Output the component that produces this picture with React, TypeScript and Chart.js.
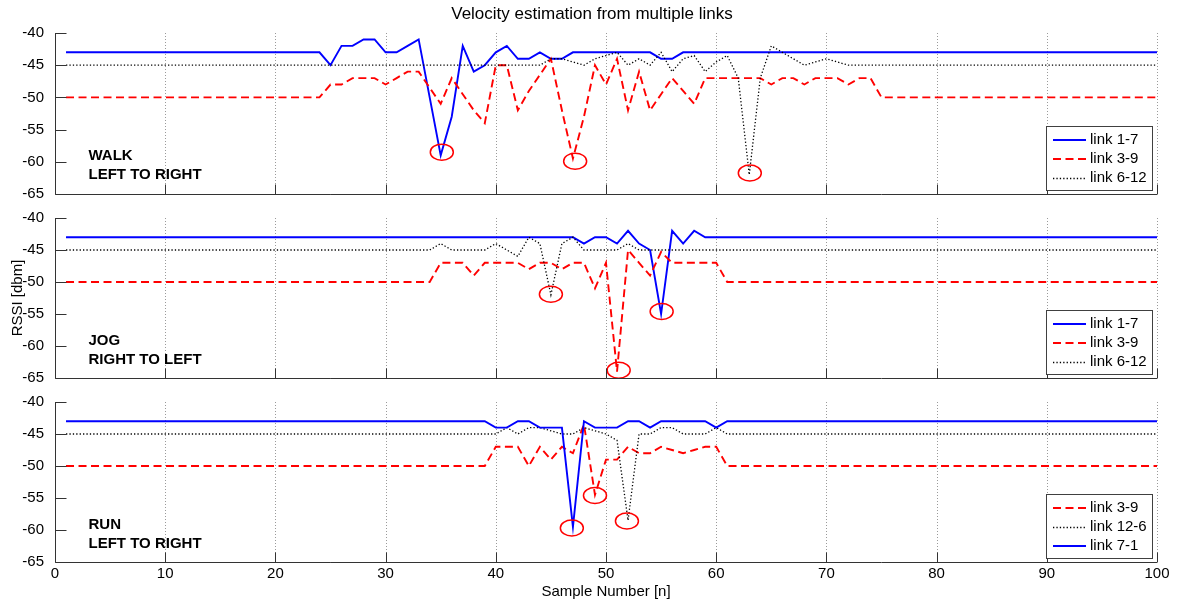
import React, { useEffect, useRef } from 'react';
import { Chart, registerables } from 'chart.js';

Chart.register(...registerables);

const FONT = "'Liberation Sans', Arial, Helvetica, sans-serif";

// ---------------- data ----------------
const sampleNumbers = [
  1, 2, 3, 4, 5, 6, 7, 8, 9, 10, 11, 12, 13, 14, 15, 16, 17, 18, 19, 20,
  21, 22, 23, 24, 25, 26, 27, 28, 29, 30, 31, 32, 33, 34, 35, 36, 37, 38, 39, 40,
  41, 42, 43, 44, 45, 46, 47, 48, 49, 50, 51, 52, 53, 54, 55, 56, 57, 58, 59, 60,
  61, 62, 63, 64, 65, 66, 67, 68, 69, 70, 71, 72, 73, 74, 75, 76, 77, 78, 79, 80,
  81, 82, 83, 84, 85, 86, 87, 88, 89, 90, 91, 92, 93, 94, 95, 96, 97, 98, 99, 100,
];
const xTickValues = [0, 10, 20, 30, 40, 50, 60, 70, 80, 90, 100];
const yTickValues = [-65, -60, -55, -50, -45, -40];

const chartTitle = 'Velocity estimation from multiple links';
const xAxisTitle = 'Sample Number [n]';
const yAxisTitle = 'RSSI [dbm]';

// WALK, left to right
const walkLink17 = [
  -43, -43, -43, -43, -43, -43, -43, -43, -43, -43,
  -43, -43, -43, -43, -43, -43, -43, -43, -43, -43,
  -43, -43, -43, -43, -45, -42, -42, -41, -41, -43,
  -43, -42, -41, -50, -59, -53, -42, -46, -45, -43,
  -42, -44, -44, -43, -44, -44, -43, -43, -43, -43,
  -43, -43, -43, -43, -44, -44, -43, -43, -43, -43,
  -43, -43, -43, -43, -43, -43, -43, -43, -43, -43,
  -43, -43, -43, -43, -43, -43, -43, -43, -43, -43,
  -43, -43, -43, -43, -43, -43, -43, -43, -43, -43,
  -43, -43, -43, -43, -43, -43, -43, -43, -43, -43,
];
const walkLink39 = [
  -50, -50, -50, -50, -50, -50, -50, -50, -50, -50,
  -50, -50, -50, -50, -50, -50, -50, -50, -50, -50,
  -50, -50, -50, -50, -48, -48, -47, -47, -47, -48,
  -47, -46, -46, -48.5, -51, -47, -49.5, -52, -54, -45,
  -45, -52, -49, -46.5, -44, -52, -59.5, -53, -45, -48,
  -44, -52, -46, -52, -49.5, -47, -49, -51, -47, -47,
  -47, -47, -47, -47, -48, -47, -47, -48, -47, -47,
  -47, -48, -47, -47, -50, -50, -50, -50, -50, -50,
  -50, -50, -50, -50, -50, -50, -50, -50, -50, -50,
  -50, -50, -50, -50, -50, -50, -50, -50, -50, -50,
];
const walkLink612 = [
  -45, -45, -45, -45, -45, -45, -45, -45, -45, -45,
  -45, -45, -45, -45, -45, -45, -45, -45, -45, -45,
  -45, -45, -45, -45, -45, -45, -45, -45, -45, -45,
  -45, -45, -45, -45, -45, -45, -45, -45, -45, -45,
  -45, -45, -45, -45, -44, -44, -44.5, -45, -44, -43.5,
  -43, -45, -44, -45, -43, -46, -44, -43.5, -46, -44.5,
  -43.5, -47, -62, -47, -42, -43, -44, -45, -44.5, -44,
  -44.5, -45, -45, -45, -45, -45, -45, -45, -45, -45,
  -45, -45, -45, -45, -45, -45, -45, -45, -45, -45,
  -45, -45, -45, -45, -45, -45, -45, -45, -45, -45,
];

// JOG, right to left
const jogLink17 = [
  -43, -43, -43, -43, -43, -43, -43, -43, -43, -43,
  -43, -43, -43, -43, -43, -43, -43, -43, -43, -43,
  -43, -43, -43, -43, -43, -43, -43, -43, -43, -43,
  -43, -43, -43, -43, -43, -43, -43, -43, -43, -43,
  -43, -43, -43, -43, -43, -43, -43, -44, -43, -43,
  -44, -42, -44, -45, -55, -42, -44, -42, -43, -43,
  -43, -43, -43, -43, -43, -43, -43, -43, -43, -43,
  -43, -43, -43, -43, -43, -43, -43, -43, -43, -43,
  -43, -43, -43, -43, -43, -43, -43, -43, -43, -43,
  -43, -43, -43, -43, -43, -43, -43, -43, -43, -43,
];
const jogLink39 = [
  -50, -50, -50, -50, -50, -50, -50, -50, -50, -50,
  -50, -50, -50, -50, -50, -50, -50, -50, -50, -50,
  -50, -50, -50, -50, -50, -50, -50, -50, -50, -50,
  -50, -50, -50, -50, -47, -47, -47, -49, -47, -47,
  -47, -47, -48, -47, -47, -48, -47, -47, -51, -47,
  -64, -45, -47, -49, -45.3, -47, -47, -47, -47, -47,
  -50, -50, -50, -50, -50, -50, -50, -50, -50, -50,
  -50, -50, -50, -50, -50, -50, -50, -50, -50, -50,
  -50, -50, -50, -50, -50, -50, -50, -50, -50, -50,
  -50, -50, -50, -50, -50, -50, -50, -50, -50, -50,
];
const jogLink612 = [
  -45, -45, -45, -45, -45, -45, -45, -45, -45, -45,
  -45, -45, -45, -45, -45, -45, -45, -45, -45, -45,
  -45, -45, -45, -45, -45, -45, -45, -45, -45, -45,
  -45, -45, -45, -45, -44, -45, -45, -45, -45, -44,
  -45, -46, -43, -44, -52, -44, -43, -45, -45, -45,
  -45, -44, -45, -45, -45, -45, -45, -45, -45, -45,
  -45, -45, -45, -45, -45, -45, -45, -45, -45, -45,
  -45, -45, -45, -45, -45, -45, -45, -45, -45, -45,
  -45, -45, -45, -45, -45, -45, -45, -45, -45, -45,
  -45, -45, -45, -45, -45, -45, -45, -45, -45, -45,
];

// RUN, left to right
const runLink39 = [
  -50, -50, -50, -50, -50, -50, -50, -50, -50, -50,
  -50, -50, -50, -50, -50, -50, -50, -50, -50, -50,
  -50, -50, -50, -50, -50, -50, -50, -50, -50, -50,
  -50, -50, -50, -50, -50, -50, -50, -50, -50, -47,
  -47, -47, -50, -47, -49, -47, -48, -43.5, -54.5, -49,
  -49, -47, -48, -48, -47, -47.5, -48, -47.5, -47, -47,
  -50, -50, -50, -50, -50, -50, -50, -50, -50, -50,
  -50, -50, -50, -50, -50, -50, -50, -50, -50, -50,
  -50, -50, -50, -50, -50, -50, -50, -50, -50, -50,
  -50, -50, -50, -50, -50, -50, -50, -50, -50, -50,
];
const runLink126 = [
  -45, -45, -45, -45, -45, -45, -45, -45, -45, -45,
  -45, -45, -45, -45, -45, -45, -45, -45, -45, -45,
  -45, -45, -45, -45, -45, -45, -45, -45, -45, -45,
  -45, -45, -45, -45, -45, -45, -45, -45, -45, -45,
  -44, -45, -44, -44, -44.5, -45, -45, -44, -44.5, -45,
  -46, -58.5, -45, -45, -44, -44, -45, -45, -45, -44,
  -45, -45, -45, -45, -45, -45, -45, -45, -45, -45,
  -45, -45, -45, -45, -45, -45, -45, -45, -45, -45,
  -45, -45, -45, -45, -45, -45, -45, -45, -45, -45,
  -45, -45, -45, -45, -45, -45, -45, -45, -45, -45,
];
const runLink71 = [
  -43, -43, -43, -43, -43, -43, -43, -43, -43, -43,
  -43, -43, -43, -43, -43, -43, -43, -43, -43, -43,
  -43, -43, -43, -43, -43, -43, -43, -43, -43, -43,
  -43, -43, -43, -43, -43, -43, -43, -43, -43, -44,
  -44, -43, -43, -44, -44, -44, -59.5, -43, -44, -44,
  -44, -43, -43, -44, -43, -43, -43, -43, -43, -44,
  -43, -43, -43, -43, -43, -43, -43, -43, -43, -43,
  -43, -43, -43, -43, -43, -43, -43, -43, -43, -43,
  -43, -43, -43, -43, -43, -43, -43, -43, -43, -43,
  -43, -43, -43, -43, -43, -43, -43, -43, -43, -43,
];

const walkCaption = ['WALK', 'LEFT TO RIGHT'];
const jogCaption = ['JOG', 'RIGHT TO LEFT'];
const runCaption = ['RUN', 'LEFT TO RIGHT'];

// red marker ellipses (sample number, RSSI)
const walkCircles = [[35.1, -58.5], [47.2, -59.9], [63.05, -61.75]];
const jogCircles = [[45, -51.9], [51.15, -63.8], [55.05, -54.6]];
const runCircles = [[46.9, -59.7], [49, -54.6], [51.9, -58.6]];

// ---------------- styles ----------------
type LineKind = 'solid' | 'dashed' | 'dotted';
const LINE_STYLE: Record<LineKind, { color: string; width: number; dash: number[] }> = {
  solid: { color: '#0000ff', width: 1.9, dash: [] },
  dashed: { color: '#ff0000', width: 1.9, dash: [8, 4.5] },
  dotted: { color: '#000000', width: 1.3, dash: [1.3, 2.1] },
};

interface SeriesDef { label: string; kind: LineKind; values: number[] }
interface PanelDef {
  top: number; height: number; padTop: number; xHeight: number;
  showTitle: boolean; showYTitle: boolean; showXTicks: boolean;
  series: SeriesDef[]; circles: number[][]; caption: string[];
}

const panels: PanelDef[] = [
  {
    top: 0, height: 206, padTop: 33, xHeight: 9,
    showTitle: true, showYTitle: false, showXTicks: false,
    series: [
      { label: 'link 1-7', kind: 'solid', values: walkLink17 },
      { label: 'link 3-9', kind: 'dashed', values: walkLink39 },
      { label: 'link 6-12', kind: 'dotted', values: walkLink612 },
    ],
    circles: walkCircles, caption: walkCaption,
  },
  {
    top: 206, height: 184, padTop: 9.5, xHeight: 10.5,
    showTitle: false, showYTitle: true, showXTicks: false,
    series: [
      { label: 'link 1-7', kind: 'solid', values: jogLink17 },
      { label: 'link 3-9', kind: 'dashed', values: jogLink39 },
      { label: 'link 6-12', kind: 'dotted', values: jogLink612 },
    ],
    circles: jogCircles, caption: jogCaption,
  },
  {
    top: 390, height: 213, padTop: 8.5, xHeight: 41,
    showTitle: false, showYTitle: false, showXTicks: true,
    series: [
      { label: 'link 3-9', kind: 'dashed', values: runLink39 },
      { label: 'link 12-6', kind: 'dotted', values: runLink126 },
      { label: 'link 7-1', kind: 'solid', values: runLink71 },
    ],
    circles: runCircles, caption: runCaption,
  },
];

function makeDecor(def: PanelDef) {
  return {
    id: 'matlabDecor',
    beforeDatasetsDraw(chart: any) {
      const { ctx, chartArea: a, scales } = chart;
      const xs = scales.x;
      ctx.save();
      ctx.strokeStyle = '#9a9a9a';
      ctx.lineWidth = 1;
      ctx.setLineDash([1, 2]);
      xTickValues.forEach((v, i) => {
        if (i === 0) return;
        const px = Math.round(xs.getPixelForValue(v)) + 0.5;
        ctx.beginPath();
        ctx.moveTo(px, a.top);
        ctx.lineTo(px, a.bottom);
        ctx.stroke();
      });
      ctx.restore();
    },
    afterDatasetsDraw(chart: any) {
      const { ctx, chartArea: a, scales } = chart;
      const xs = scales.x;
      const ys = scales.y;
      ctx.save();
      // marker ellipses
      ctx.strokeStyle = '#ff0000';
      ctx.lineWidth = 1.5;
      ctx.setLineDash([]);
      def.circles.forEach(([cx, cy]) => {
        ctx.beginPath();
        ctx.ellipse(xs.getPixelForValue(cx), ys.getPixelForValue(cy), 11.5, 8, 0, 0, Math.PI * 2);
        ctx.stroke();
      });
      // axes lines
      const L = Math.round(a.left) + 0.5;
      const B = Math.round(a.bottom) + 0.5;
      ctx.strokeStyle = '#333333';
      ctx.lineWidth = 1;
      ctx.beginPath();
      ctx.moveTo(L, a.top);
      ctx.lineTo(L, B);
      ctx.lineTo(a.right, B);
      ctx.stroke();
      // inward ticks
      ctx.beginPath();
      xTickValues.forEach((v) => {
        const px = Math.round(xs.getPixelForValue(v)) + 0.5;
        ctx.moveTo(px, B);
        ctx.lineTo(px, B - 10);
      });
      yTickValues.forEach((v) => {
        const py = Math.round(ys.getPixelForValue(v)) + 0.5;
        ctx.moveTo(L, py);
        ctx.lineTo(L + 11, py);
      });
      ctx.stroke();
      // title
      ctx.fillStyle = '#000';
      ctx.textBaseline = 'middle';
      if (def.showTitle) {
        ctx.font = `17px ${FONT}`;
        ctx.textAlign = 'center';
        ctx.fillText(chartTitle, (a.left + a.right) / 2 - 14, 14);
      }
      // caption
      ctx.font = `bold 15px ${FONT}`;
      ctx.textAlign = 'left';
      def.caption.forEach((t, i) => {
        ctx.fillText(t, a.left + 33.5, a.top + 123 + i * 18.5);
      });
      // legend
      const bw = 106;
      const bh = 64;
      const bx = Math.floor(a.right - 4.5 - bw) + 0.5;
      const by = Math.floor(a.bottom - 3.5 - bh) + 0.5;
      ctx.fillStyle = '#ffffff';
      ctx.fillRect(bx, by, bw, bh);
      ctx.strokeStyle = '#404040';
      ctx.lineWidth = 1;
      ctx.setLineDash([]);
      ctx.strokeRect(bx, by, bw, bh);
      ctx.font = `15px ${FONT}`;
      def.series.forEach((s, i) => {
        const st = LINE_STYLE[s.kind];
        const ly = Math.round(by + 13 + 19 * i) + (st.width < 1.5 ? 0.5 : 0);
        ctx.strokeStyle = st.color;
        ctx.lineWidth = st.width;
        ctx.setLineDash(st.dash);
        ctx.beginPath();
        ctx.moveTo(bx + 6.5, ly);
        ctx.lineTo(bx + 39.5, ly);
        ctx.stroke();
        ctx.fillStyle = '#000';
        ctx.fillText(s.label, bx + 43.5, by + 13 + 19 * i);
      });
      ctx.restore();
    },
  };
}

function Panel({ def }: { def: PanelDef }) {
  const ref = useRef<HTMLCanvasElement | null>(null);
  useEffect(() => {
    if (!ref.current) return;
    const n = def.series.length;
    const chart = new Chart(ref.current, {
      type: 'line',
      data: {
        datasets: def.series.map((s, i) => ({
          label: s.label,
          data: s.values.map((v, j) => ({ x: sampleNumbers[j], y: v })),
          borderColor: LINE_STYLE[s.kind].color,
          borderWidth: LINE_STYLE[s.kind].width,
          borderDash: LINE_STYLE[s.kind].dash,
          pointRadius: 0,
          tension: 0,
          fill: false,
          order: n - i,
        })),
      },
      options: {
        responsive: false,
        maintainAspectRatio: false,
        animation: false,
        devicePixelRatio: 1,
        events: [],
        layout: { padding: { top: def.padTop, right: 22, left: 0, bottom: 0 } },
        plugins: {
          legend: { display: false },
          tooltip: { enabled: false },
          title: { display: false },
        },
        scales: {
          x: {
            type: 'linear',
            min: xTickValues[0],
            max: xTickValues[xTickValues.length - 1],
            afterBuildTicks: (s: any) => { s.ticks = xTickValues.map((v) => ({ value: v })); },
            ticks: {
              display: def.showXTicks,
              autoSkip: false,
              maxRotation: 0,
              color: '#000',
              padding: -5,
              font: { family: FONT, size: 15 },
            },
            grid: { display: false },
            border: { display: false },
            title: {
              display: def.showXTicks,
              text: xAxisTitle,
              color: '#000',
              font: { family: FONT, size: 15 },
              padding: { top: 0, bottom: 2 },
            },
            afterFit: (s: any) => { s.height = def.xHeight; },
          },
          y: {
            type: 'linear',
            min: yTickValues[0],
            max: yTickValues[yTickValues.length - 1],
            afterBuildTicks: (s: any) => { s.ticks = yTickValues.map((v) => ({ value: v })); },
            ticks: {
              color: '#000',
              padding: 3,
              font: { family: FONT, size: 15 },
            },
            grid: { display: false },
            border: { display: false },
            title: {
              display: def.showYTitle,
              text: yAxisTitle,
              color: '#000',
              font: { family: FONT, size: 15 },
              padding: { top: 9, bottom: 0 },
            },
            afterFit: (s: any) => { s.width = 55; },
          },
        },
      } as any,
      plugins: [makeDecor(def)],
    });
    return () => chart.destroy();
  }, [def]);
  return (
    <canvas
      ref={ref}
      width={1179}
      height={def.height}
      style={{ position: 'absolute', left: 0, top: def.top, width: 1179, height: def.height, display: 'block' }}
    />
  );
}

export default function App() {
  return (
    <div style={{ position: 'absolute', left: 0, top: 0, width: 1179, height: 603, background: '#fff', overflow: 'hidden' }}>
      {panels.map((p, i) => (
        <Panel key={i} def={p} />
      ))}
    </div>
  );
}
